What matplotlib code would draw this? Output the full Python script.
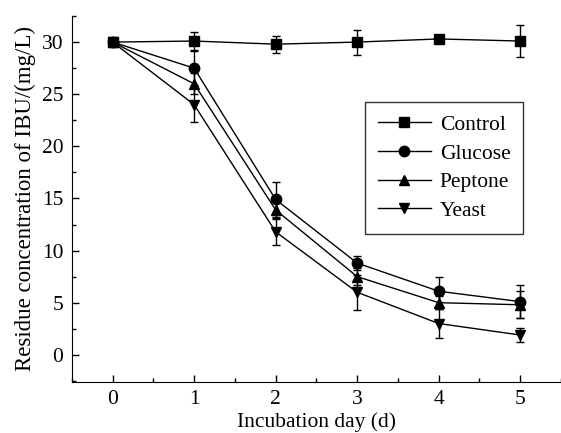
import matplotlib
matplotlib.use("Agg")
import matplotlib.pyplot as plt
from matplotlib.ticker import MultipleLocator

days = [0, 1, 2, 3, 4, 5]

control = [30.0, 30.1, 29.8, 30.0, 30.3, 30.1]
control_err = [0.0, 0.9, 0.8, 1.2, 0.1, 1.5]
glucose = [30.0, 27.5, 14.9, 8.8, 6.1, 5.1]
glucose_err = [0.0, 1.6, 1.7, 0.7, 1.4, 1.6]
peptone = [30.0, 26.0, 13.9, 7.5, 5.0, 4.8]
peptone_err = [0.0, 1.0, 0.9, 0.8, 0.6, 1.3]
yeast = [30.0, 24.0, 11.8, 6.0, 3.0, 1.9]
yeast_err = [0.0, 1.7, 1.3, 1.7, 1.4, 0.7]

plt.rcParams['font.family'] = ['Liberation Serif', 'DejaVu Serif']
plt.rcParams['font.size'] = 15.5

fig = plt.figure(figsize=(5.61, 4.33), dpi=100)
ax = fig.add_axes([0.128, 0.118, 0.872, 0.845])

series = [
    ("Control", control, control_err, "s"),
    ("Glucose", glucose, glucose_err, "o"),
    ("Peptone", peptone, peptone_err, "^"),
    ("Yeast", yeast, yeast_err, "v"),
]
handles = []
for name, vals, errs, mk in series:
    cont = ax.errorbar(days, vals, yerr=errs, color="black", marker=mk, markersize=7.5,
                       linewidth=1, elinewidth=1, capsize=3, capthick=1, label=name)
    handles.append(cont[0])

ax.set_xlim(-0.5, 5.5)
ax.set_ylim(-2.6, 32.5)
ax.xaxis.set_major_locator(MultipleLocator(1))
ax.xaxis.set_minor_locator(MultipleLocator(0.5))
ax.yaxis.set_major_locator(MultipleLocator(5))
ax.yaxis.set_minor_locator(MultipleLocator(2.5))
ax.tick_params(which="both", direction="in", width=1)
ax.tick_params(which="major", length=5, pad=6)
ax.tick_params(which="minor", length=3)
ax.spines["top"].set_visible(False)
ax.spines["right"].set_visible(False)

ax.set_xlabel("Incubation day (d)", labelpad=2)
ax.set_ylabel("Residue concentration of IBU/(mg/L)", fontsize=16.5, labelpad=4)

leg = ax.legend(handles, [s[0] for s in series], loc="upper left",
                bbox_to_anchor=(0.599, 0.765), borderaxespad=0, frameon=True,
                fancybox=False, edgecolor="black", handlelength=2.46,
                borderpad=0.6, labelspacing=0.4, handletextpad=0.42)
leg.get_frame().set_linewidth(1)

fig.savefig("out.png", dpi=100)
